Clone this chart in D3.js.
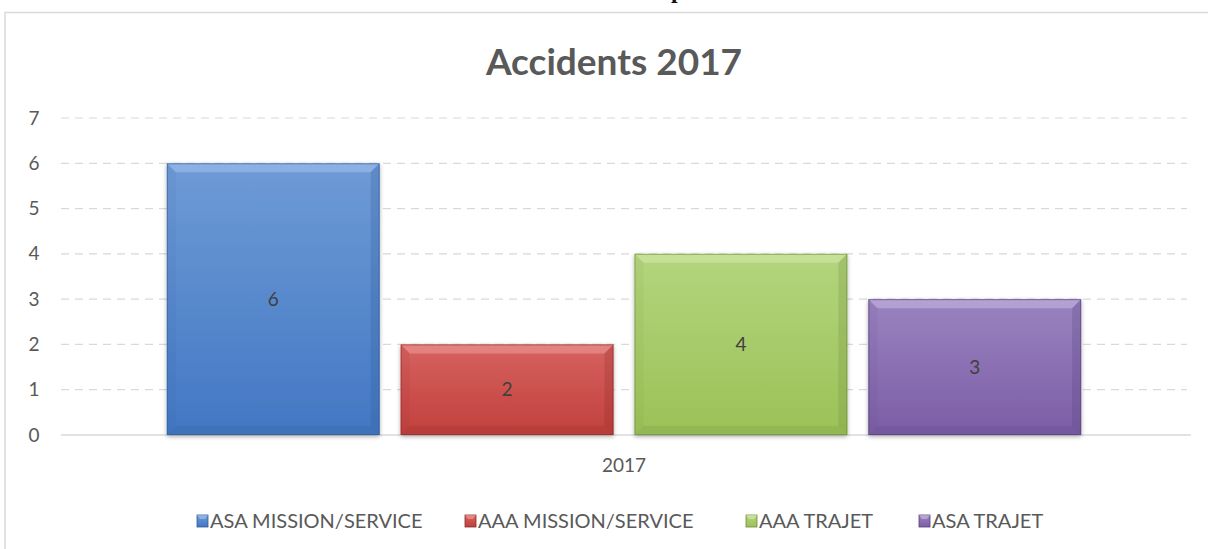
<!DOCTYPE html>
<html>
<head>
<meta charset="utf-8">
<script src="https://cdn.jsdelivr.net/npm/d3@7"></script>
<style>
  html, body { margin: 0; padding: 0; background: #fff; }
  svg { display: block; font-family: Lato, "Open Sans", sans-serif; }
</style>
</head>
<body>
<svg id="chart" width="1208" height="549"></svg>
<script>
// data
var categories = ["2017"];
var seriesNames = ["ASA MISSION/SERVICE", "AAA MISSION/SERVICE", "AAA TRAJET", "ASA TRAJET"];
var seriesValues = [6, 2, 4, 3];
var yTicks = [0, 1, 2, 3, 4, 5, 6, 7];

// colours: top, bottom, bevel light, bevel dark
var palette = [
  ["#6f9bd6", "#4277c3", "#a9c6ee", "#2e5c98"],
  ["#d6625f", "#c1403d", "#f2a3a0", "#8c2c2a"],
  ["#b3d57d", "#9bc157", "#d8ecb2", "#6e8b3b"],
  ["#9a83c0", "#7b5da5", "#cdbfe5", "#55407a"]
];

var svg = d3.select("#chart"),
    width = +svg.attr("width"),
    height = +svg.attr("height");

var plotLeft = 61, plotRight = 1187, plotTop = 118, plotBottom = 435;

var defs = svg.append("defs");

palette.forEach(function(c, i) {
  var g = defs.append("linearGradient")
      .attr("id", "grad" + i)
      .attr("x1", 0).attr("y1", 0).attr("x2", 0).attr("y2", 1);
  g.append("stop").attr("offset", "0%").attr("stop-color", c[0]);
  g.append("stop").attr("offset", "100%").attr("stop-color", c[1]);
});

var shadow = defs.append("filter").attr("id", "shadow")
    .attr("x", "-10%").attr("y", "-10%").attr("width", "120%").attr("height", "120%");
shadow.append("feDropShadow")
    .attr("dx", 0).attr("dy", 1.5).attr("stdDeviation", 2)
    .attr("flood-color", "#000").attr("flood-opacity", 0.35);

// chart frame
svg.append("rect")
    .attr("x", 5).attr("y", 12.5)
    .attr("width", 1300).attr("height", 600)
    .attr("fill", "none")
    .attr("stroke", "#d9d9d9")
    .attr("stroke-width", 1.5);

// bit of heading text above the chart, cut off by the page edge (as in the source)
svg.append("text")
    .attr("x", 671).attr("y", -2)
    .attr("font-family", "'Liberation Serif', serif")
    .attr("font-weight", "bold")
    .attr("font-size", 24)
    .attr("fill", "#111")
    .text("p");

// title
svg.append("text")
    .attr("x", 614).attr("y", 75)
    .attr("text-anchor", "middle")
    .attr("font-weight", "bold")
    .attr("font-size", 37)
    .attr("fill", "#595959")
    .text("Accidents 2017");

// scales
var y = d3.scaleLinear().domain([0, 7]).range([plotBottom, plotTop]);

var x0 = d3.scaleBand().domain(categories).range([plotLeft, plotRight]).padding(0);

var groupInset = 0.094 * x0.bandwidth();
var x1 = d3.scaleBand()
    .domain(seriesNames)
    .range([groupInset, x0.bandwidth() - groupInset])
    .paddingInner(0.09);

// gridlines
svg.append("g")
    .selectAll("line")
    .data(yTicks.filter(function(d) { return d > 0; }))
    .enter().append("line")
    .attr("x1", plotLeft).attr("x2", plotRight)
    .attr("y1", function(d) { return y(d); })
    .attr("y2", function(d) { return y(d); })
    .attr("stroke", "#d9d9d9")
    .attr("stroke-width", 1.2)
    .attr("stroke-dasharray", "8,6");

// y axis labels
var yAxis = d3.axisLeft(y).tickValues(yTicks).tickFormat(d3.format("d")).tickSize(0).tickPadding(0);
var yAxisG = svg.append("g")
    .attr("transform", "translate(34,0)")
    .call(yAxis);
yAxisG.select(".domain").remove();
yAxisG.selectAll("text")
    .attr("text-anchor", "middle")
    .attr("font-family", "Lato, 'Open Sans', sans-serif")
    .attr("font-size", 19)
    .attr("fill", "#595959");

// baseline
svg.append("line")
    .attr("x1", plotLeft).attr("x2", plotRight + 4)
    .attr("y1", y(0)).attr("y2", y(0))
    .attr("stroke", "#d9d9d9")
    .attr("stroke-width", 1.5);

// bars
var bevel = 9;
var barData = seriesNames.map(function(name, i) {
  return { name: name, value: seriesValues[i], i: i, cat: categories[0] };
});

var bars = svg.append("g").selectAll("g")
    .data(barData)
    .enter().append("g")
    .attr("transform", function(d) { return "translate(" + (x0(d.cat) + x1(d.name)) + ",0)"; });

bars.append("rect")
    .attr("x", 0)
    .attr("y", function(d) { return y(d.value); })
    .attr("width", x1.bandwidth())
    .attr("height", function(d) { return y(0) - y(d.value); })
    .attr("fill", function(d) { return "url(#grad" + d.i + ")"; })
    .attr("filter", "url(#shadow)");

function bevelPath(d, side) {
  var w = x1.bandwidth(), t = y(d.value), b = y(0), e = bevel;
  if (side === "top") return [[0, t], [w, t], [w - e, t + e], [e, t + e]];
  if (side === "left") return [[0, t], [e, t + e], [e, b - e], [0, b]];
  if (side === "right") return [[w, t], [w, b], [w - e, b - e], [w - e, t + e]];
  return [[0, b], [e, b - e], [w - e, b - e], [w, b]];
}

var line = d3.line();
[["top", 2, 0.5], ["left", 3, 0.08], ["right", 3, 0.25], ["bottom", 3, 0.18]].forEach(function(s) {
  bars.append("path")
      .attr("d", function(d) { return line(bevelPath(d, s[0])) + "Z"; })
      .attr("fill", function(d) { return palette[d.i][s[1]]; })
      .attr("opacity", s[2]);
});

bars.append("rect")
    .attr("x", 0.5)
    .attr("y", function(d) { return y(d.value) + 0.5; })
    .attr("width", x1.bandwidth() - 1)
    .attr("height", function(d) { return y(0) - y(d.value) - 1; })
    .attr("fill", "none")
    .attr("stroke", function(d) { return palette[d.i][3]; })
    .attr("stroke-opacity", 0.6)
    .attr("stroke-width", 1);

// value labels
bars.append("text")
    .attr("x", x1.bandwidth() / 2)
    .attr("y", function(d) { return (y(d.value) + y(0)) / 2; })
    .attr("dy", "0.35em")
    .attr("text-anchor", "middle")
    .attr("font-size", 19)
    .attr("fill", "#404040")
    .text(function(d) { return d.value; });

// category label
svg.append("text")
    .attr("x", x0(categories[0]) + x0.bandwidth() / 2)
    .attr("y", 465)
    .attr("dy", "0.35em")
    .attr("text-anchor", "middle")
    .attr("font-size", 19)
    .attr("fill", "#595959")
    .text(categories[0]);

// legend
var legendX = [197, 465, 746, 919];
var legend = svg.append("g").selectAll("g")
    .data(barData)
    .enter().append("g")
    .attr("transform", function(d) { return "translate(" + legendX[d.i] + ",515)"; });

legend.append("rect")
    .attr("width", 11).attr("height", 12)
    .attr("fill", function(d) { return "url(#grad" + d.i + ")"; })
    .attr("stroke", function(d) { return palette[d.i][3]; })
    .attr("stroke-width", 0.8);

legend.append("path")
    .attr("d", "M0,0 L11,0 L8,4 L3,4 Z")
    .attr("fill", function(d) { return palette[d.i][2]; })
    .attr("opacity", 0.6);

legend.append("text")
    .attr("x", 13)
    .attr("y", 6)
    .attr("dy", "0.35em")
    .attr("font-size", 20)
    .attr("fill", "#595959")
    .text(function(d) { return d.name; });
</script>
</body>
</html>
